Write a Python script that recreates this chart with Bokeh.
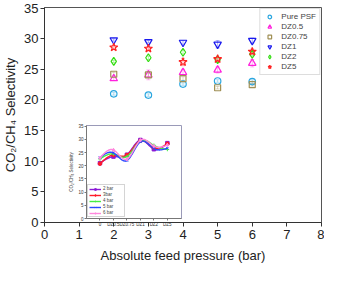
import numpy as np
from bokeh.plotting import figure
from bokeh.models import ColumnDataSource, Whisker, Legend, LegendItem, FixedTicker, Range1d
from bokeh.layouts import column
from bokeh.embed import file_html
from bokeh.resources import INLINE

# ---------------- data ----------------
pressure = [2, 3, 4, 5, 6]
pure_psf = [21.0, 20.8, 22.6, 23.1, 23.0]
dz05 = [23.5, 24.1, 24.5, 24.9, 26.0]
dz075 = [24.2, 24.1, 23.5, 22.0, 22.5]
dz1 = [29.8, 29.5, 29.4, 29.1, 29.7]
dz2 = [26.3, 26.9, 27.8, 26.6, 27.5]
dz5 = [28.6, 28.4, 26.2, 26.7, 27.9]

err_psf = [0.2, 0.2, 0.2, 0.2, 0.3]
err_dz05 = [0.3, 0.8, 0.5, 0.5, 0.6]
err_dz075 = [0.3, 0.3, 0.3, 0.2, 0.2]
err_dz1 = [0.2, 0.2, 0.3, 0.6, 0.4]
err_dz2 = [0.2, 0.3, 0.3, 0.3, 0.3]
err_dz5 = [0.3, 0.3, 0.6, 0.3, 0.4]

series_names = ["Pure PSF", "DZ0.5", "DZ0.75", "DZ1", "DZ2", "DZ5"]
inset_labels = ["0", "DZ0.5", "DZ0.75", "DZ1", "DZ2", "DZ5"]
pressure_labels = ["2 bar", "3bar", "4 bar", "5 bar", "6 bar"]

FONT = "Liberation Sans"

# ---------------- main figure ----------------
p = figure(width=324, height=265, output_backend="svg", toolbar_location=None,
           x_range=Range1d(0, 8), y_range=Range1d(0, 35.1),
           min_border_left=40, min_border_right=2, min_border_top=7, min_border_bottom=35)
p.xgrid.visible = False
p.ygrid.visible = False
p.outline_line_color = "#555555"
p.background_fill_color = "white"

for ax in (p.xaxis[0], p.yaxis[0]):
    ax.major_label_text_font = FONT
    ax.major_label_text_font_size = "13px"
    ax.axis_label_text_font = FONT
    ax.axis_label_text_font_size = "13px"
    ax.axis_label_text_font_style = "normal"
    ax.major_tick_out = 4
    ax.major_tick_in = 0
    ax.minor_tick_out = 0
    ax.minor_tick_in = 0
    ax.axis_line_color = "#333333"
    ax.major_tick_line_color = "#333333"
    ax.major_label_text_color = "#222222"
    ax.axis_label_text_color = "#222222"
p.xaxis.ticker = FixedTicker(ticks=list(range(0, 9)))
p.yaxis.ticker = FixedTicker(ticks=list(range(0, 36, 5)))
p.xaxis.axis_label = "Absolute feed pressure (bar)"
p.yaxis.axis_label = "CO\u2082/CH\u2084 Selectivity"
p.xaxis.major_label_standoff = 3
p.yaxis.major_label_standoff = 2
p.yaxis.axis_label_standoff = 3
p.xaxis.axis_label_standoff = 6

styles = [
    (pure_psf, err_psf, "circle", "#2aa6df", 6.5),
    (dz05, err_dz05, "triangle", "#ff22dd", 7.5),
    (dz075, err_dz075, "square", "#a09055", 6),
    (dz1, err_dz1, "inverted_triangle", "#1a1aee", 7.5),
    (dz2, err_dz2, "diamond", "#33dd11", 8),
    (dz5, err_dz5, "star", "#ff2222", 8.5),
]

items = []
for name, (vals, errs, marker, color, sz) in zip(series_names, styles):
    v = np.array(vals)
    e = np.array(errs)
    src = ColumnDataSource(dict(x=pressure, y=vals, lo=list(v - e), hi=list(v + e)))
    w = Whisker(base="x", upper="hi", lower="lo", source=src, line_color=color,
                line_width=1, line_alpha=0.35)
    w.upper_head.size = 4
    w.lower_head.size = 4
    w.upper_head.line_color = color
    w.lower_head.line_color = color
    w.upper_head.line_alpha = 0.35
    w.lower_head.line_alpha = 0.35
    p.add_layout(w)
    r = p.scatter("x", "y", source=src, marker=marker, size=sz,
                  fill_color="white", fill_alpha=0, line_color=color, line_width=1.2)
    items.append(LegendItem(label=name, renderers=[r]))

leg = Legend(items=items, location="top_right", label_text_font=FONT,
             label_text_font_size="8px", label_height=8, glyph_height=9, glyph_width=12,
             spacing=1, padding=3, margin=1, label_standoff=6,
             border_line_color="#bbbbbb", background_fill_alpha=1)
p.add_layout(leg)

# ---------------- inset figure ----------------
def natural_spline(xs, ys, n=24):
    xs = np.asarray(xs, float)
    ys = np.asarray(ys, float)
    m = len(xs)
    h = np.diff(xs)
    A = np.zeros((m, m))
    b = np.zeros(m)
    A[0, 0] = 1
    A[-1, -1] = 1
    for i in range(1, m - 1):
        A[i, i - 1] = h[i - 1]
        A[i, i] = 2 * (h[i - 1] + h[i])
        A[i, i + 1] = h[i]
        b[i] = 6 * ((ys[i + 1] - ys[i]) / h[i] - (ys[i] - ys[i - 1]) / h[i - 1])
    M = np.linalg.solve(A, b)
    ox, oy = [], []
    for i in range(m - 1):
        t = np.linspace(xs[i], xs[i + 1], n, endpoint=(i == m - 2))
        a = xs[i + 1] - t
        c = t - xs[i]
        s = (M[i] * a ** 3 + M[i + 1] * c ** 3) / (6 * h[i]) \
            + (ys[i] / h[i] - M[i] * h[i] / 6) * a + (ys[i + 1] / h[i] - M[i + 1] * h[i] / 6) * c
        ox.extend(t.tolist())
        oy.extend(s.tolist())
    return ox, oy

q = figure(width=142, height=107, output_backend="svg", toolbar_location=None,
           x_range=Range1d(0, 7.05), y_range=Range1d(0, 35.3),
           min_border_left=15, min_border_right=3, min_border_top=3, min_border_bottom=8,
           margin=(-143, 0, 0, 42))
q.xgrid.visible = False
q.ygrid.visible = False
q.outline_line_color = "#9a9ab8"
q.border_fill_alpha = 0
q.background_fill_color = "white"
for ax in (q.xaxis[0], q.yaxis[0]):
    ax.major_label_text_font = FONT
    ax.major_label_text_font_size = "4.5px"
    ax.axis_label_text_font = FONT
    ax.axis_label_text_font_size = "4.5px"
    ax.axis_label_text_font_style = "normal"
    ax.major_tick_out = 2
    ax.major_tick_in = 0
    ax.minor_tick_out = 0
    ax.minor_tick_in = 0
    ax.major_label_standoff = 1
    ax.axis_line_color = "#777777"
    ax.major_tick_line_color = "#777777"
    ax.major_label_text_color = "#333333"
cat_x = [1, 2, 3, 4, 5, 6]
q.xaxis.ticker = FixedTicker(ticks=cat_x)
q.xaxis.major_label_overrides = {i: lab for i, lab in zip(cat_x, inset_labels)}
q.yaxis.ticker = FixedTicker(ticks=list(range(0, 36, 5)))
q.yaxis.axis_label = "CO\u2082/CH\u2084 Selectivity"
q.yaxis.axis_label_standoff = 1

all_series = [pure_psf, dz05, dz075, dz1, dz2, dz5]
inset_styles = [
    ("square", "#8a1ad6"),
    ("circle", "#ff1a2a"),
    ("cross", "#44ee44"),
    ("x", "#2a4aff"),
    ("diamond", "#ff88dd"),
]
inset_items = []
for j, (lab, (marker, color)) in enumerate(zip(pressure_labels, inset_styles)):
    ys = [s[j] for s in all_series]
    sx, sy = natural_spline(cat_x, ys)
    rl = q.line(sx, sy, line_color=color, line_width=1.4)
    rs = q.scatter(cat_x, ys, marker=marker, size=3.5, line_color=color, fill_color=color)
    inset_items.append(LegendItem(label=lab, renderers=[rl, rs]))

ileg = Legend(items=inset_items, location="bottom_left", label_text_font=FONT,
              label_text_font_size="4.5px", label_height=4, glyph_height=4, glyph_width=12,
              spacing=1, padding=1, margin=1, label_standoff=2,
              border_line_color="#aaaaaa")
q.add_layout(ileg)

layout = column(p, q)
open("out.html", "w").write(file_html(layout, INLINE))
